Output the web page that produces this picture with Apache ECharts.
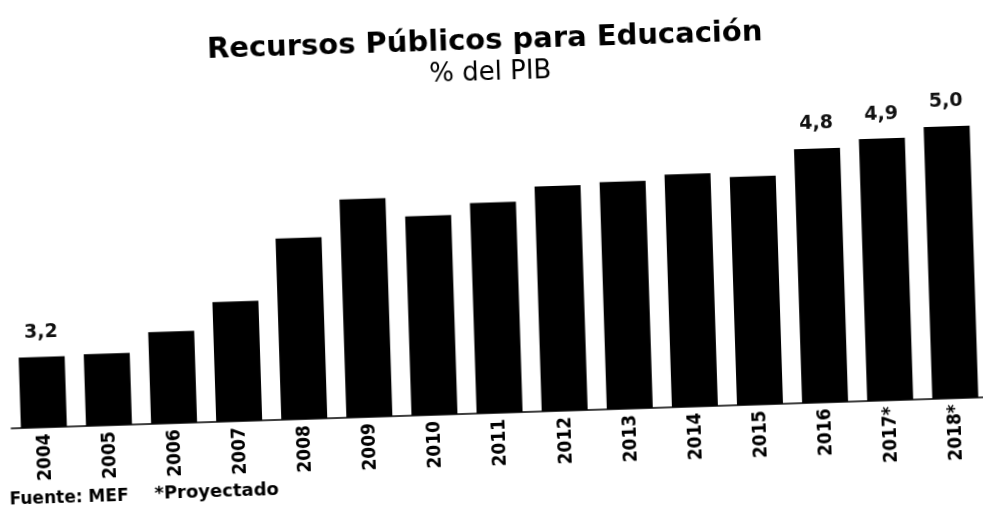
<!DOCTYPE html>
<html><head><meta charset="utf-8">
<script src="https://cdn.jsdelivr.net/npm/echarts@6/dist/echarts.min.js"></script>
<style>
html,body{margin:0;padding:0;background:#fff;overflow:hidden;}
#c{width:983px;height:506px;transform:rotate(-1.83deg);transform-origin:491px 253px;}
</style></head><body>
<div id="c"></div>
<script>
const years = ['2004','2005','2006','2007','2008','2009','2010','2011','2012','2013','2014','2015','2016','2017*','2018*'];
const values = [3.20,3.21,3.39,3.64,4.19,4.52,4.35,4.45,4.58,4.60,4.65,4.61,4.84,4.91,5.00];
const labelledYears = ['2004','2016','2017*','2018*'];
const titleText = 'Recursos Públicos para Educación';
const subtitleText = '% del PIB';
const sourceText = 'Fuente: MEF';
const noteText = '*Proyectado';

const chart = echarts.init(document.getElementById('c'), null, {renderer:'canvas'});
chart.setOption({
  backgroundColor:'#fff',
  animation:false,
  title:[
    {text:titleText,left:'center',top:22,textStyle:{fontFamily:'DejaVu Sans',fontWeight:'bold',fontSize:29,color:'#000'}},
    {text:subtitleText,left:430,top:55,textStyle:{fontFamily:'DejaVu Sans',fontWeight:'normal',fontSize:26,color:'#000'}},
    {text:sourceText,left:2,top:476,padding:0,textStyle:{fontFamily:'DejaVu Sans',fontWeight:'bold',fontSize:17,color:'#000'}},
    {text:noteText,left:147,top:474,padding:0,textStyle:{fontFamily:'DejaVu Sans',fontWeight:'bold',fontSize:18,color:'#000'}}
  ],
  grid:{left:6,right:0,top:141,bottom:93,containLabel:false},
  xAxis:{
    type:'category',data:years,
    axisLine:{show:true,lineStyle:{color:'#000',width:1.5}},
    axisTick:{show:false},
    axisLabel:{rotate:90,margin:6,fontFamily:'DejaVu Sans Condensed',fontWeight:'bold',fontSize:19,color:'#000'}
  },
  yAxis:{type:'value',min:2.57,max:5.0,show:false,splitLine:{show:false}},
  series:[{
    type:'bar',data:values,barWidth:46,
    itemStyle:{color:'#000'},
    label:{show:true,position:'top',distance:15,fontFamily:'DejaVu Sans',fontWeight:'bold',fontSize:19,color:'#111',
      formatter:p=> labelledYears.includes(p.name) ? p.value.toFixed(1).replace('.',',') : ''}
  }]
});
</script>
</body></html>
